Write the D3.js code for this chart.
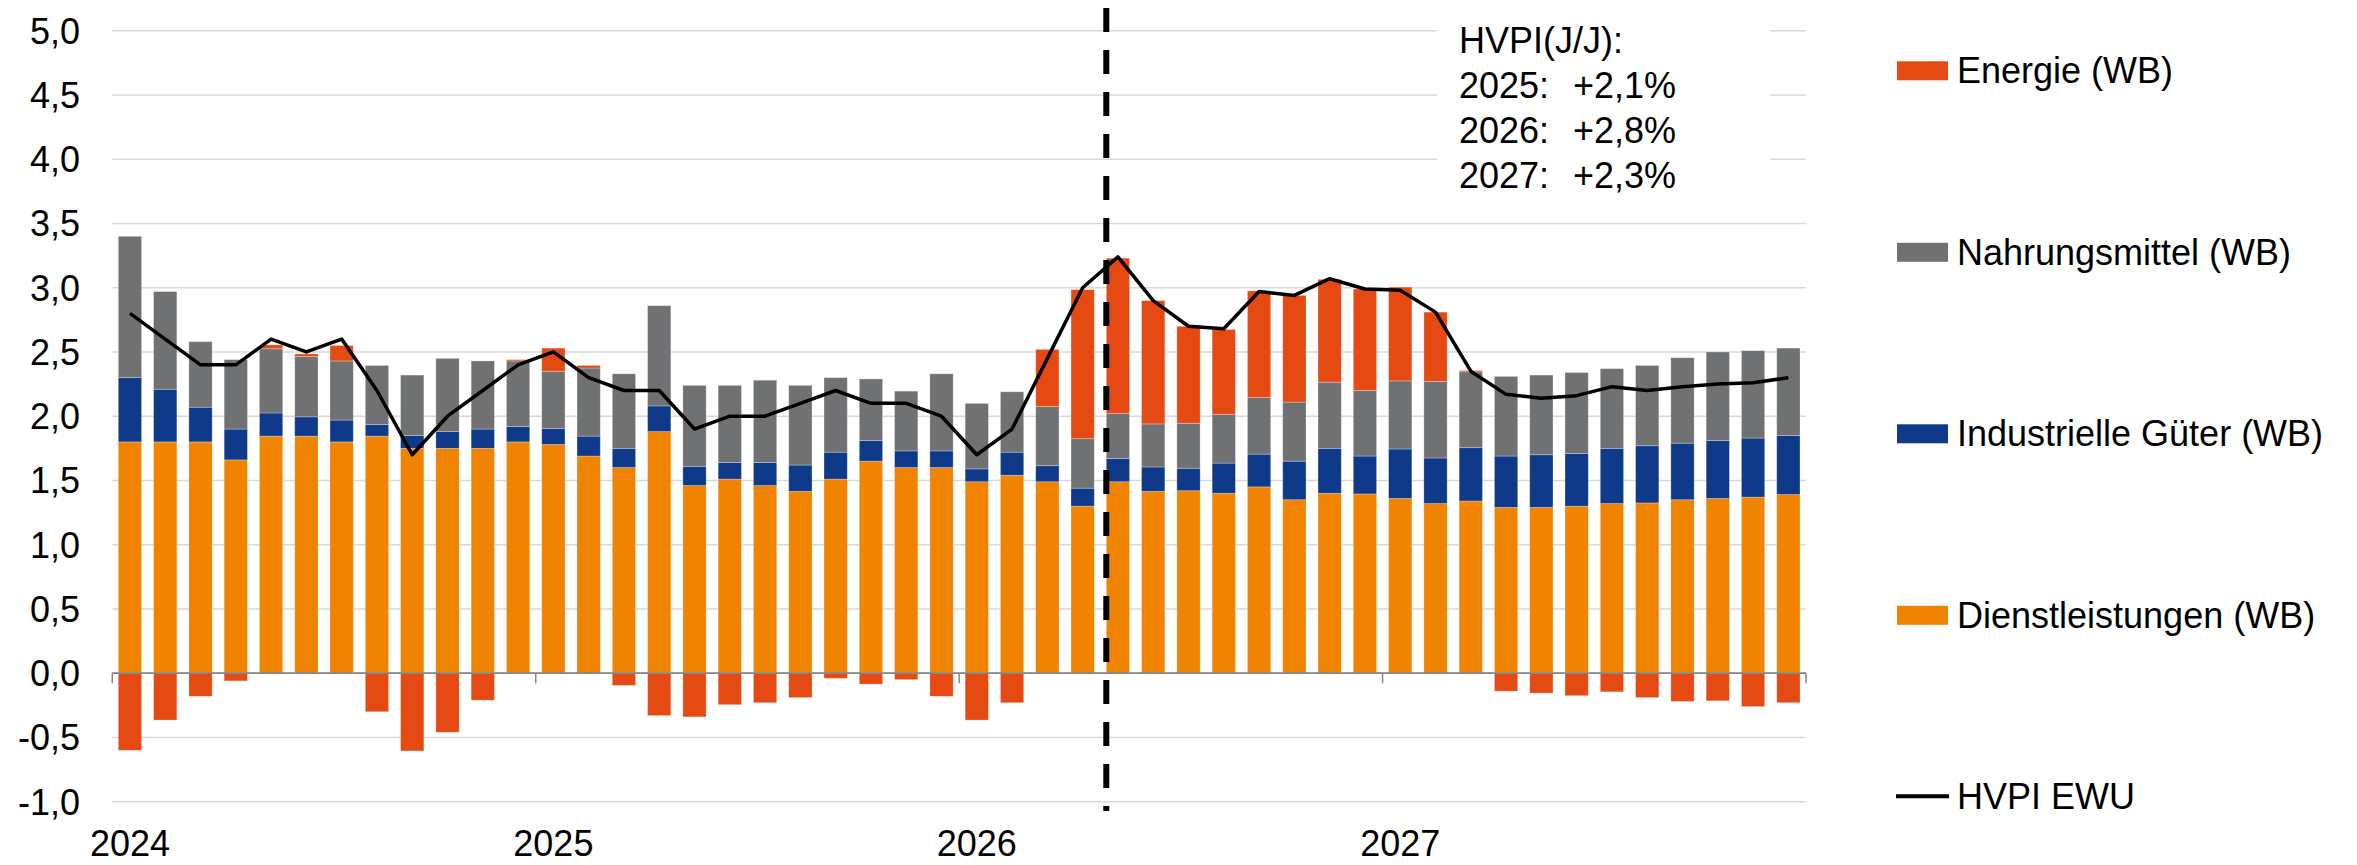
<!DOCTYPE html>
<html>
<head>
<meta charset="utf-8">
<script src="https://cdn.jsdelivr.net/npm/d3@7"></script>
<style>
  body { margin: 0; background: #fff; }
  text { font-family: "Liberation Sans", Arial, sans-serif; fill: #000; }
</style>
</head>
<body>
<svg width="2357" height="865"></svg>
<script>
// chart data (contributions in percentage points, HVPI in %)
var years = ["2024", "2025", "2026", "2027"];
var yTicks = [-1, -0.5, 0, 0.5, 1, 1.5, 2, 2.5, 3, 3.5, 4, 4.5, 5];

var dienstleistungen = [1.80, 1.80, 1.80, 1.66, 1.845, 1.845, 1.80, 1.845, 1.75, 1.75, 1.75, 1.80,
  1.78, 1.69, 1.60, 1.88, 1.46, 1.51, 1.46, 1.415, 1.51, 1.65, 1.60, 1.60,
  1.49, 1.54, 1.49, 1.30, 1.49, 1.415, 1.42, 1.40, 1.45, 1.35, 1.40, 1.395,
  1.36, 1.32, 1.34, 1.29, 1.29, 1.30, 1.32, 1.325, 1.35, 1.36, 1.37, 1.39];

var industrielleGueter = [0.50, 0.41, 0.27, 0.24, 0.18, 0.15, 0.17, 0.09, 0.10, 0.13, 0.15, 0.12,
  0.125, 0.155, 0.15, 0.20, 0.15, 0.13, 0.18, 0.205, 0.21, 0.16, 0.13, 0.13,
  0.10, 0.18, 0.125, 0.14, 0.18, 0.19, 0.175, 0.235, 0.255, 0.30, 0.35, 0.295,
  0.385, 0.355, 0.415, 0.40, 0.41, 0.41, 0.43, 0.445, 0.44, 0.45, 0.46, 0.46];

var nahrungsmittel = [1.10, 0.76, 0.51, 0.54, 0.50, 0.47, 0.46, 0.46, 0.47, 0.57, 0.53, 0.51,
  0.445, 0.53, 0.58, 0.78, 0.63, 0.60, 0.64, 0.62, 0.58, 0.48, 0.465, 0.60,
  0.51, 0.47, 0.46, 0.385, 0.35, 0.335, 0.35, 0.38, 0.44, 0.46, 0.515, 0.51,
  0.53, 0.595, 0.59, 0.62, 0.62, 0.63, 0.62, 0.625, 0.665, 0.69, 0.68, 0.68];

var energie = [-0.60, -0.365, -0.18, -0.06, 0.03, 0.02, 0.12, -0.30, -0.605, -0.46, -0.21, 0.01,
  0.18, 0.02, -0.095, -0.33, -0.34, -0.245, -0.23, -0.19, -0.04, -0.085, -0.05, -0.18,
  -0.365, -0.23, 0.445, 1.16, 1.21, 0.96, 0.755, 0.66, 0.83, 0.83, 0.80, 0.79,
  0.73, 0.54, 0.01, -0.14, -0.155, -0.175, -0.145, -0.19, -0.22, -0.215, -0.26, -0.23];

var hvpi = [2.80, 2.60, 2.40, 2.40, 2.60, 2.50, 2.60, 2.20, 1.70, 2.00, 2.20, 2.40,
  2.50, 2.30, 2.20, 2.20, 1.90, 2.00, 2.00, 2.10, 2.20, 2.10, 2.10, 2.00,
  1.70, 1.90, 2.45, 3.00, 3.24, 2.90, 2.70, 2.68, 2.97, 2.94, 3.07, 2.99,
  2.98, 2.81, 2.35, 2.17, 2.14, 2.16, 2.23, 2.20, 2.23, 2.25, 2.26, 2.30];

var forecastStart = 28; // first projected month (May 2026)
var annualTitle = "HVPI(J/J):";
var annualYears = ["2025:", "2026:", "2027:"];
var annualRates = ["+2,1%", "+2,8%", "+2,3%"];

var keys = ["dienst", "industrie", "nahrung", "energie"];
var legendNames = ["Energie (WB)", "Nahrungsmittel (WB)", "Industrielle Güter (WB)", "Dienstleistungen (WB)", "HVPI EWU"];
var colors = { dienst: "#f08300", industrie: "#0f3a8a", nahrung: "#707173", energie: "#e64a13" };

// build the table for d3.stack
var months = [];
years.forEach(function (yr) { for (var m = 1; m <= 12; m++) months.push(yr + "-" + m); });
var table = months.map(function (m, i) {
  return { i: i, dienst: dienstleistungen[i], industrie: industrielleGueter[i], nahrung: nahrungsmittel[i], energie: energie[i] };
});

var svg = d3.select("svg"),
    width = +svg.attr("width"),
    height = +svg.attr("height");

var x = d3.scaleBand()
    .domain(d3.range(months.length))
    .range([112.3, 1806])
    .paddingInner(0.34)
    .paddingOuter(0.17);

var xEdge = d3.scaleLinear().domain([0, months.length]).range([112.3, 1806]);

var y = d3.scaleLinear().domain([-1, 5]).range([801.7, 30.7]);

// gridlines
svg.append("g")
  .selectAll("line")
  .data(yTicks)
  .enter().append("line")
    .attr("x1", 112.3).attr("x2", 1806)
    .attr("y1", function (d) { return y(d); })
    .attr("y2", function (d) { return y(d); })
    .attr("stroke", "#d9d9d9")
    .attr("stroke-width", 1.5);

// y tick labels
svg.append("g")
  .selectAll("text")
  .data(yTicks)
  .enter().append("text")
    .attr("x", 80)
    .attr("y", function (d) { return y(d); })
    .attr("dy", "0.36em")
    .attr("text-anchor", "end")
    .style("font-size", "36px")
    .text(function (d) { return d3.format(".1f")(d).replace(".", ",").replace("−", "-"); });

// white box behind the annual rates
svg.append("rect")
  .attr("x", 1437).attr("y", 0)
  .attr("width", 333).attr("height", 200)
  .attr("fill", "#fff");

// stacked bars
var series = d3.stack().keys(keys).offset(d3.stackOffsetDiverging)(table);

svg.append("g")
  .selectAll("g")
  .data(series)
  .enter().append("g")
    .attr("fill", function (s) { return colors[s.key]; })
  .selectAll("rect")
  .data(function (s) { return s; })
  .enter().append("rect")
    .attr("x", function (d) { return x(d.data.i); })
    .attr("width", x.bandwidth())
    .attr("y", function (d) { return y(Math.max(d[0], d[1])); })
    .attr("height", function (d) { return Math.abs(y(d[0]) - y(d[1])); })
    .attr("stroke", "#fff")
    .attr("stroke-opacity", 0.35)
    .attr("stroke-width", 0.8);

// zero axis with year ticks
svg.append("line")
  .attr("x1", 112.3).attr("x2", 1806)
  .attr("y1", y(0)).attr("y2", y(0))
  .attr("stroke", "#868686")
  .attr("stroke-width", 1.8);

svg.append("g")
  .selectAll("line")
  .data(d3.range(0, months.length + 1, 12))
  .enter().append("line")
    .attr("x1", function (d) { return xEdge(d); })
    .attr("x2", function (d) { return xEdge(d); })
    .attr("y1", y(0)).attr("y2", y(0) + 10)
    .attr("stroke", "#868686")
    .attr("stroke-width", 1.5);

// year labels under the January bars
svg.append("g")
  .selectAll("text")
  .data(years)
  .enter().append("text")
    .attr("x", function (d, k) { return x(k * 12) + x.bandwidth() / 2; })
    .attr("y", 856)
    .attr("text-anchor", "middle")
    .style("font-size", "36px")
    .text(function (d) { return d; });

// HVPI line
var line = d3.line()
    .x(function (d, i) { return x(i) + x.bandwidth() / 2; })
    .y(function (d) { return y(d); });

svg.append("path")
  .datum(hvpi)
  .attr("d", line)
  .attr("fill", "none")
  .attr("stroke", "#000")
  .attr("stroke-width", 3.5)
  .attr("stroke-linejoin", "round");

// projection start marker
svg.append("line")
  .attr("x1", x(forecastStart)).attr("x2", x(forecastStart))
  .attr("y1", 8).attr("y2", 811)
  .attr("stroke", "#000")
  .attr("stroke-width", 6)
  .attr("stroke-dasharray", "24,18");

// annual rates text
var ann = svg.append("g").style("font-size", "36px");
ann.append("text").attr("x", 1459).attr("y", 53.3).text(annualTitle);
annualYears.forEach(function (yr, k) {
  ann.append("text").attr("x", 1459).attr("y", 98.3 + k * 44.8).text(yr);
  ann.append("text").attr("x", 1573).attr("y", 98.3 + k * 44.8).text(annualRates[k]);
});

// legend
var legendKeys = ["energie", "nahrung", "industrie", "dienst", "hvpi"];
var legend = svg.append("g")
  .selectAll("g")
  .data(legendKeys)
  .enter().append("g")
    .attr("transform", function (d, k) { return "translate(0," + (83.3 + k * 181.5) + ")"; });

legend.filter(function (d) { return d !== "hvpi"; })
  .append("rect")
    .attr("x", 1897).attr("y", -22)
    .attr("width", 51).attr("height", 19)
    .attr("fill", function (d) { return colors[d]; });

legend.filter(function (d) { return d === "hvpi"; })
  .append("line")
    .attr("x1", 1896).attr("x2", 1949)
    .attr("y1", -13).attr("y2", -13)
    .attr("stroke", "#000")
    .attr("stroke-width", 4);

legend.append("text")
  .attr("x", 1957)
  .attr("y", 0)
  .style("font-size", "36px")
  .text(function (d, k) { return legendNames[k]; });
</script>
</body>
</html>
